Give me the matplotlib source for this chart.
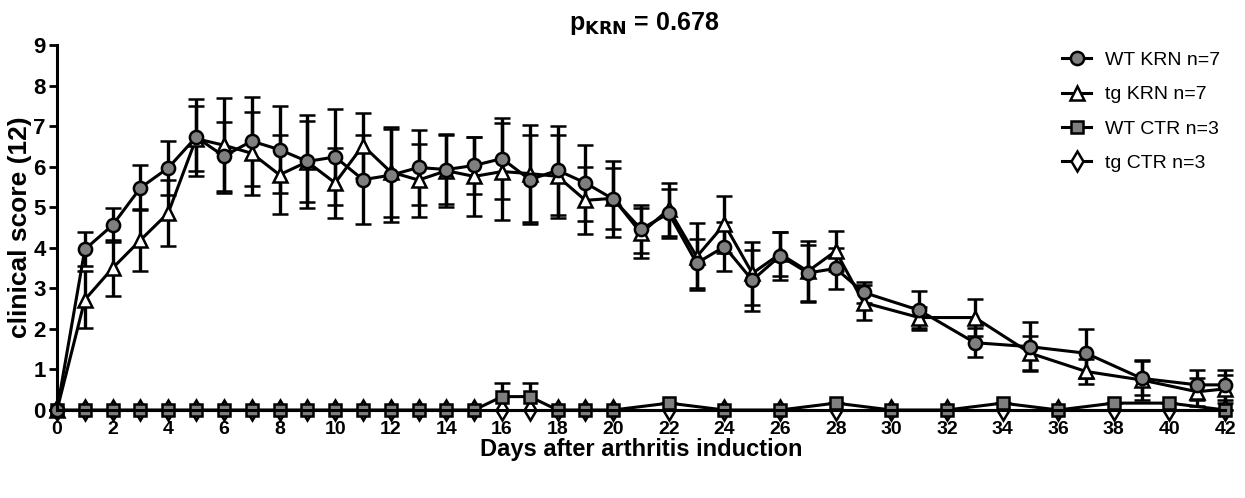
import matplotlib
matplotlib.use("Agg")
import matplotlib.pyplot as plt
from matplotlib import font_manager
from matplotlib.lines import Line2D

# === Data ===
krn_days = [0, 1, 2, 3, 4, 5, 6, 7, 8, 9, 10, 11, 12, 13, 14, 15, 16, 17, 18, 19,
            20, 21, 22, 23, 24, 25, 26, 27, 28, 29, 31, 33, 35, 37, 39, 41, 42]
wt_krn = [0, 3.96, 4.56, 5.48, 5.97, 6.73, 6.26, 6.63, 6.42, 6.13, 6.24, 5.68, 5.79,
          5.98, 5.93, 6.03, 6.20, 5.68, 5.91, 5.60, 5.20, 4.46, 4.85, 3.62, 4.03, 3.20,
          3.80, 3.38, 3.49, 2.90, 2.46, 1.66, 1.56, 1.40, 0.78, 0.62, 0.62]
wt_krn_err = [0, 0.42, 0.42, 0.55, 0.67, 0.95, 0.85, 1.10, 1.07, 1.15, 1.19, 1.10, 1.15,
              0.92, 0.85, 0.70, 1.00, 1.10, 1.10, 0.93, 0.93, 0.60, 0.60, 0.60, 0.60, 0.75,
              0.60, 0.68, 0.50, 0.25, 0.48, 0.35, 0.60, 0.60, 0.42, 0.37, 0.37]
tg_krn = [0, 2.72, 3.50, 4.19, 4.86, 6.69, 6.53, 6.33, 5.80, 6.12, 5.60, 6.52, 5.87,
          5.67, 5.90, 5.76, 5.88, 5.83, 5.76, 5.17, 5.22, 4.36, 4.95, 3.78, 4.58, 3.37,
          3.85, 3.42, 3.92, 2.65, 2.28, 2.28, 1.40, 0.95, 0.74, 0.45, 0.52]
tg_krn_err = [0, 0.70, 0.68, 0.76, 0.82, 0.80, 1.17, 1.02, 0.97, 1.00, 0.86, 0.80, 1.10,
              0.90, 0.90, 0.97, 1.20, 1.20, 1.02, 0.82, 0.75, 0.62, 0.65, 0.82, 0.70, 0.78,
              0.55, 0.75, 0.50, 0.43, 0.27, 0.45, 0.42, 0.30, 0.50, 0.35, 0.35]

ctr_days = [0, 1, 2, 3, 4, 5, 6, 7, 8, 9, 10, 11, 12, 13, 14, 15, 16, 17, 18, 19, 20,
            22, 24, 26, 28, 30, 32, 34, 36, 38, 40, 42]
wt_ctr = [0, 0, 0, 0, 0, 0, 0, 0, 0, 0, 0, 0, 0, 0, 0, 0, 0.33, 0.33, 0, 0, 0,
          0.17, 0, 0, 0.17, 0, 0, 0.17, 0, 0.17, 0.17, 0]
wt_ctr_err = [0, 0, 0, 0, 0, 0, 0, 0, 0, 0, 0, 0, 0, 0, 0, 0, 0.33, 0.33, 0, 0, 0,
              0, 0, 0, 0, 0, 0, 0, 0, 0, 0, 0]
tg_ctr = [0, 0, 0, 0, 0, 0, 0, 0, 0, 0, 0, 0, 0, 0, 0, 0, 0, 0, 0, 0, 0,
          0, 0, 0, 0, 0, 0, 0, 0, 0, 0, 0]

labels = ["WT KRN n=7", "tg KRN n=7", "WT CTR n=3", "tg CTR n=3"]
x_ticks = list(range(0, 43, 2))
y_ticks = list(range(0, 10))

# === Fonts ===
installed = {f.name for f in font_manager.fontManager.ttflist}
narrow = ["Liberation Sans Narrow", "Liberation Sans", "DejaVu Sans"]
narrow = [f for f in narrow if f in installed] or ["DejaVu Sans"]
plain = ["Liberation Sans", "DejaVu Sans"]

# === Plot ===
fig = plt.figure(figsize=(12.45, 4.98), dpi=100)
ax = fig.add_axes([0.0458, 0.1767, 0.9382, 0.7329])

style = dict(color="black", lw=2.2, mec="black", mew=1.8,
             elinewidth=2.4, capsize=5.5, capthick=2.6, clip_on=False)

h4 = ax.errorbar(ctr_days, tg_ctr, marker="d", mfc="white", ms=10, **style)
h3 = ax.errorbar(ctr_days, wt_ctr, yerr=wt_ctr_err, marker="s", mfc="#7f7f7f", ms=8.5, **style)
h2 = ax.errorbar(krn_days, tg_krn, yerr=tg_krn_err, marker="^", mfc="white", ms=9.5, **style)
h1 = ax.errorbar(krn_days, wt_krn, yerr=wt_krn_err, marker="o", mfc="#7f7f7f", ms=9.5, **style)

for h in (h1, h2, h3, h4):
    for art in h.lines[1] + h.lines[2]:
        art.set_clip_on(False)

ax.set_xlim(0, 42)
ax.set_ylim(0, 9)
ax.set_xticks(x_ticks)
ax.set_yticks(y_ticks)
ax.set_xticklabels([str(t) for t in x_ticks], family=narrow, fontweight="bold", fontsize=14)
ax.set_yticklabels([str(t) for t in y_ticks], family=narrow, fontweight="bold", fontsize=16)
ax.tick_params(width=2, length=6, pad=2)

for side in ("top", "right"):
    ax.spines[side].set_visible(False)
for side in ("left", "bottom"):
    ax.spines[side].set_linewidth(2.2)

ax.set_ylabel("clinical score (12)", family=plain, fontweight="bold", fontsize=19, labelpad=1)
ax.set_xlabel("Days after arthritis induction", family=narrow, fontweight="bold", fontsize=17, labelpad=0)
fig.text(0.517, 0.952, r"p$_{\mathbf{KRN}}$ = 0.678", family=plain, fontweight="bold",
         fontsize=18, ha="center", va="center")

# legend: line + marker only, no error bars (as in the original)
handles = [
    Line2D([], [], color="black", lw=2.2, marker="o", mfc="#7f7f7f", mec="black", mew=1.8, ms=9.5),
    Line2D([], [], color="black", lw=2.2, marker="^", mfc="white", mec="black", mew=1.8, ms=9.5),
    Line2D([], [], color="black", lw=2.2, marker="s", mfc="#7f7f7f", mec="black", mew=1.8, ms=8.5),
    Line2D([], [], color="black", lw=2.2, marker="d", mfc="white", mec="black", mew=1.8, ms=10),
]
leg = ax.legend(handles, labels, loc="upper left",
                bbox_to_anchor=(0.839, 0.932), bbox_transform=fig.transFigure,
                frameon=False, handlelength=1.5, handletextpad=0.7, labelspacing=0.86,
                prop={"family": narrow, "size": 14})

plt.savefig("out.png", dpi=100)
